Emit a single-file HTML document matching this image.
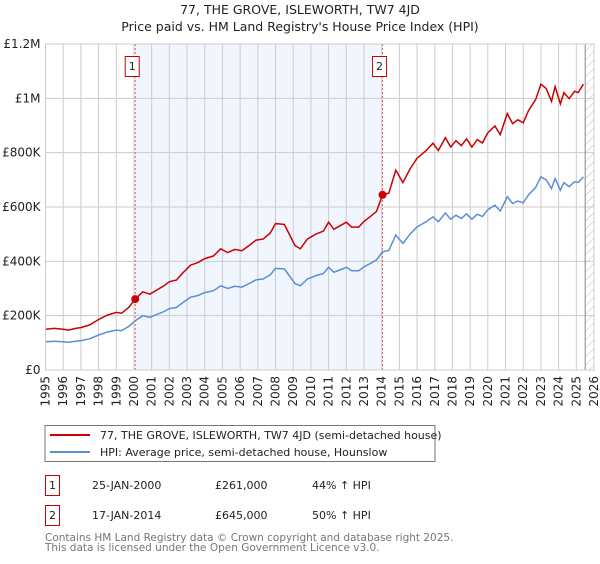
<!DOCTYPE html>
<html><head><meta charset="utf-8"><style>
body{margin:0;background:#fff;font-family:"DejaVu Sans","Liberation Sans",sans-serif}
svg text{font-family:"DejaVu Sans","Liberation Sans",sans-serif}
</style></head><body>
<svg id="chart" width="600" height="560" viewBox="0 0 600 560" xmlns="http://www.w3.org/2000/svg">
<defs><pattern id="hatch" width="6" height="6" patternUnits="userSpaceOnUse" patternTransform="rotate(45)"><line x1="0" y1="0" x2="0" y2="6" stroke="#bbb" stroke-width="1"/></pattern></defs>
<text x="300" y="14" text-anchor="middle" font-size="12.5" fill="#222">77, THE GROVE, ISLEWORTH, TW7 4JD</text>
<text x="300" y="31" text-anchor="middle" font-size="12.5" fill="#222">Price paid vs. HM Land Registry's House Price Index (HPI)</text>
<g id="plot"></g>
<g>
<rect x="45" y="425.5" width="390" height="36" fill="#fff" stroke="#777" stroke-width="1"/>
<line x1="50" y1="435" x2="90" y2="435" stroke="#cc0000" stroke-width="2"/>
<text x="100" y="439" font-size="11" fill="#222">77, THE GROVE, ISLEWORTH, TW7 4JD (semi-detached house)</text>
<line x1="50" y1="452" x2="90" y2="452" stroke="#5b8ed6" stroke-width="2"/>
<text x="100" y="456" font-size="11" fill="#222">HPI: Average price, semi-detached house, Hounslow</text>
</g>
<g font-size="11" fill="#222">
<rect x="45.5" y="475.5" width="14" height="20" fill="none" stroke="#cc0000"/>
<text x="52.5" y="489" text-anchor="middle">1</text>
<text x="92" y="489">25-JAN-2000</text><text x="215" y="489">£261,000</text><text x="312" y="489">44% ↑ HPI</text>
<rect x="45.5" y="505.5" width="14" height="20" fill="none" stroke="#cc0000"/>
<text x="52.5" y="519" text-anchor="middle">2</text>
<text x="92" y="519">17-JAN-2014</text><text x="215" y="519">£645,000</text><text x="312" y="519">50% ↑ HPI</text>
</g>
<text x="45" y="541" font-size="10.5" fill="#777">Contains HM Land Registry data © Crown copyright and database right 2025.</text>
<text x="45" y="551" font-size="10.5" fill="#777">This data is licensed under the Open Government Licence v3.0.</text>
</svg>
<script>
const hpiYears=[1995.0,1995.5,1996.0,1996.3,1996.7,1997.0,1997.5,1998.0,1998.5,1999.0,1999.3,1999.7,2000.07,2000.5,2000.9,2001.3,2001.7,2002.0,2002.4,2002.8,2003.2,2003.6,2004.0,2004.5,2004.9,2005.3,2005.7,2006.1,2006.5,2006.9,2007.3,2007.7,2008.0,2008.5,2008.8,2009.1,2009.4,2009.8,2010.3,2010.7,2011.0,2011.3,2011.7,2012.0,2012.3,2012.7,2013.0,2013.3,2013.7,2014.05,2014.4,2014.8,2015.2,2015.6,2016.0,2016.5,2016.9,2017.2,2017.6,2017.9,2018.2,2018.5,2018.8,2019.1,2019.4,2019.7,2020.0,2020.4,2020.7,2021.1,2021.4,2021.7,2022.0,2022.3,2022.7,2023.0,2023.3,2023.6,2023.8,2024.1,2024.3,2024.6,2024.9,2025.1,2025.4];
const hpiValues=[104,106,104,102,106,108,115,129,140,147,145,160,181,200,194,205,215,226,230,250,268,274,285,292,310,300,308,305,318,332,335,350,374,372,345,318,310,335,348,355,378,360,370,378,365,365,380,390,405,435,440,497,466,500,527,545,564,546,578,555,570,558,575,555,573,565,590,607,585,638,613,622,615,645,672,711,700,668,705,662,690,675,693,690,711];
const priceValues=[150,153,150,147,153,156,166,186,202,212,209,230,261,288,279,295,310,325,331,360,386,395,410,420,446,432,444,439,458,478,482,504,539,536,497,458,446,482,501,511,544,518,533,544,526,526,547,562,583,645,651,736,690,740,780,807,835,808,855,821,844,826,851,821,848,836,873,898,866,944,907,921,910,955,995,1052,1036,989,1043,980,1021,999,1026,1021,1052];
const yTicks=[0,200,400,600,800,1000,1200];
const yTickLabels=["£0","£200K","£400K","£600K","£800K","£1M","£1.2M"];
const xTicks=[1995,1996,1997,1998,1999,2000,2001,2002,2003,2004,2005,2006,2007,2008,2009,2010,2011,2012,2013,2014,2015,2016,2017,2018,2019,2020,2021,2022,2023,2024,2025,2026];
const saleYears=[2000.07,2014.05];
const salePrices=[261,645];
const saleLabels=["1","2"];
const X0=45.5,X1=594,Y0=370,Y1=44;
const x=y=>X0+(y-1995)/(2026-1995)*(X1-X0);
const yv=v=>Y0-v/1200*(Y0-Y1);
const NS="http://www.w3.org/2000/svg";
const g=document.getElementById('plot');
function mk(t,a,p){const e=document.createElementNS(NS,t);for(const k in a)e.setAttribute(k,a[k]);(p||g).appendChild(e);return e;}
const bg=mk('rect',{x:X0,y:Y1,width:X1-X0,height:Y0-Y1,fill:'#fff'});


const sh=mk('rect',{x:x(saleYears[0]),y:Y1,width:x(saleYears[1])-x(saleYears[0]),height:Y0-Y1,fill:'#eef3fc',opacity:0.8});


const ht=mk('rect',{x:x(2025.5),y:Y1,width:X1-x(2025.5),height:Y0-Y1,fill:'url(#hatch)'});


xTicks.forEach((t,i)=>{
 const l=mk('line',{x1:x(t),x2:x(t),y1:Y1,y2:Y0,stroke:'#ccc','stroke-width':1});
 
 
 const tx=mk('text',{x:0,y:0,'font-size':12,fill:'#222','text-anchor':'end',transform:`translate(${x(t)+4},${Y0+6}) rotate(-90)`});
 tx.textContent=t;
 
 
});
yTicks.forEach((t,i)=>{
 const l=mk('line',{x1:X0,x2:X1,y1:yv(t),y2:yv(t),stroke:'#ccc','stroke-width':1});
 
 
 const tx=mk('text',{x:X0-5,y:yv(t)+4,'font-size':12,fill:'#222','text-anchor':'end'});
 tx.textContent=yTickLabels[i];
 
 
});
const vl=mk('line',{x1:x(2025.5),x2:x(2025.5),y1:Y1,y2:Y0,stroke:'#888','stroke-width':1});


saleYears.forEach((s,i)=>{
 const l=mk('line',{x1:x(s),x2:x(s),y1:Y1,y2:Y0,stroke:'#e06060','stroke-width':1,'stroke-dasharray':'2,2'});
 
 
 const b=mk('rect',{x:x(s)-10,y:56.5,width:14,height:20,fill:'#fff',stroke:'#cc0000'});
 
 
 const t=mk('text',{x:x(s)-3,y:70,'font-size':11,fill:'#222','text-anchor':'middle'});
 t.textContent=saleLabels[i];
 
 
});
const pth=(ys,vs)=>ys.map((a,i)=>(i?'L':'M')+x(a).toFixed(1)+' '+yv(vs[i]).toFixed(1)).join(' ');
const hl=mk('path',{d:pth(hpiYears,hpiValues),fill:'none',stroke:'#5b8ed6','stroke-width':1.5});


const pl=mk('path',{d:pth(hpiYears,priceValues),fill:'none',stroke:'#cc0000','stroke-width':1.5});


saleYears.forEach((s,i)=>{
 const c=mk('circle',{cx:x(s),cy:yv(salePrices[i]),r:4,fill:'#cc0000'});
 
 
});
const fr=mk('rect',{x:X0,y:Y1,width:X1-X0,height:Y0-Y1,fill:'none',stroke:'#ccc'});


</script>
</body></html>
